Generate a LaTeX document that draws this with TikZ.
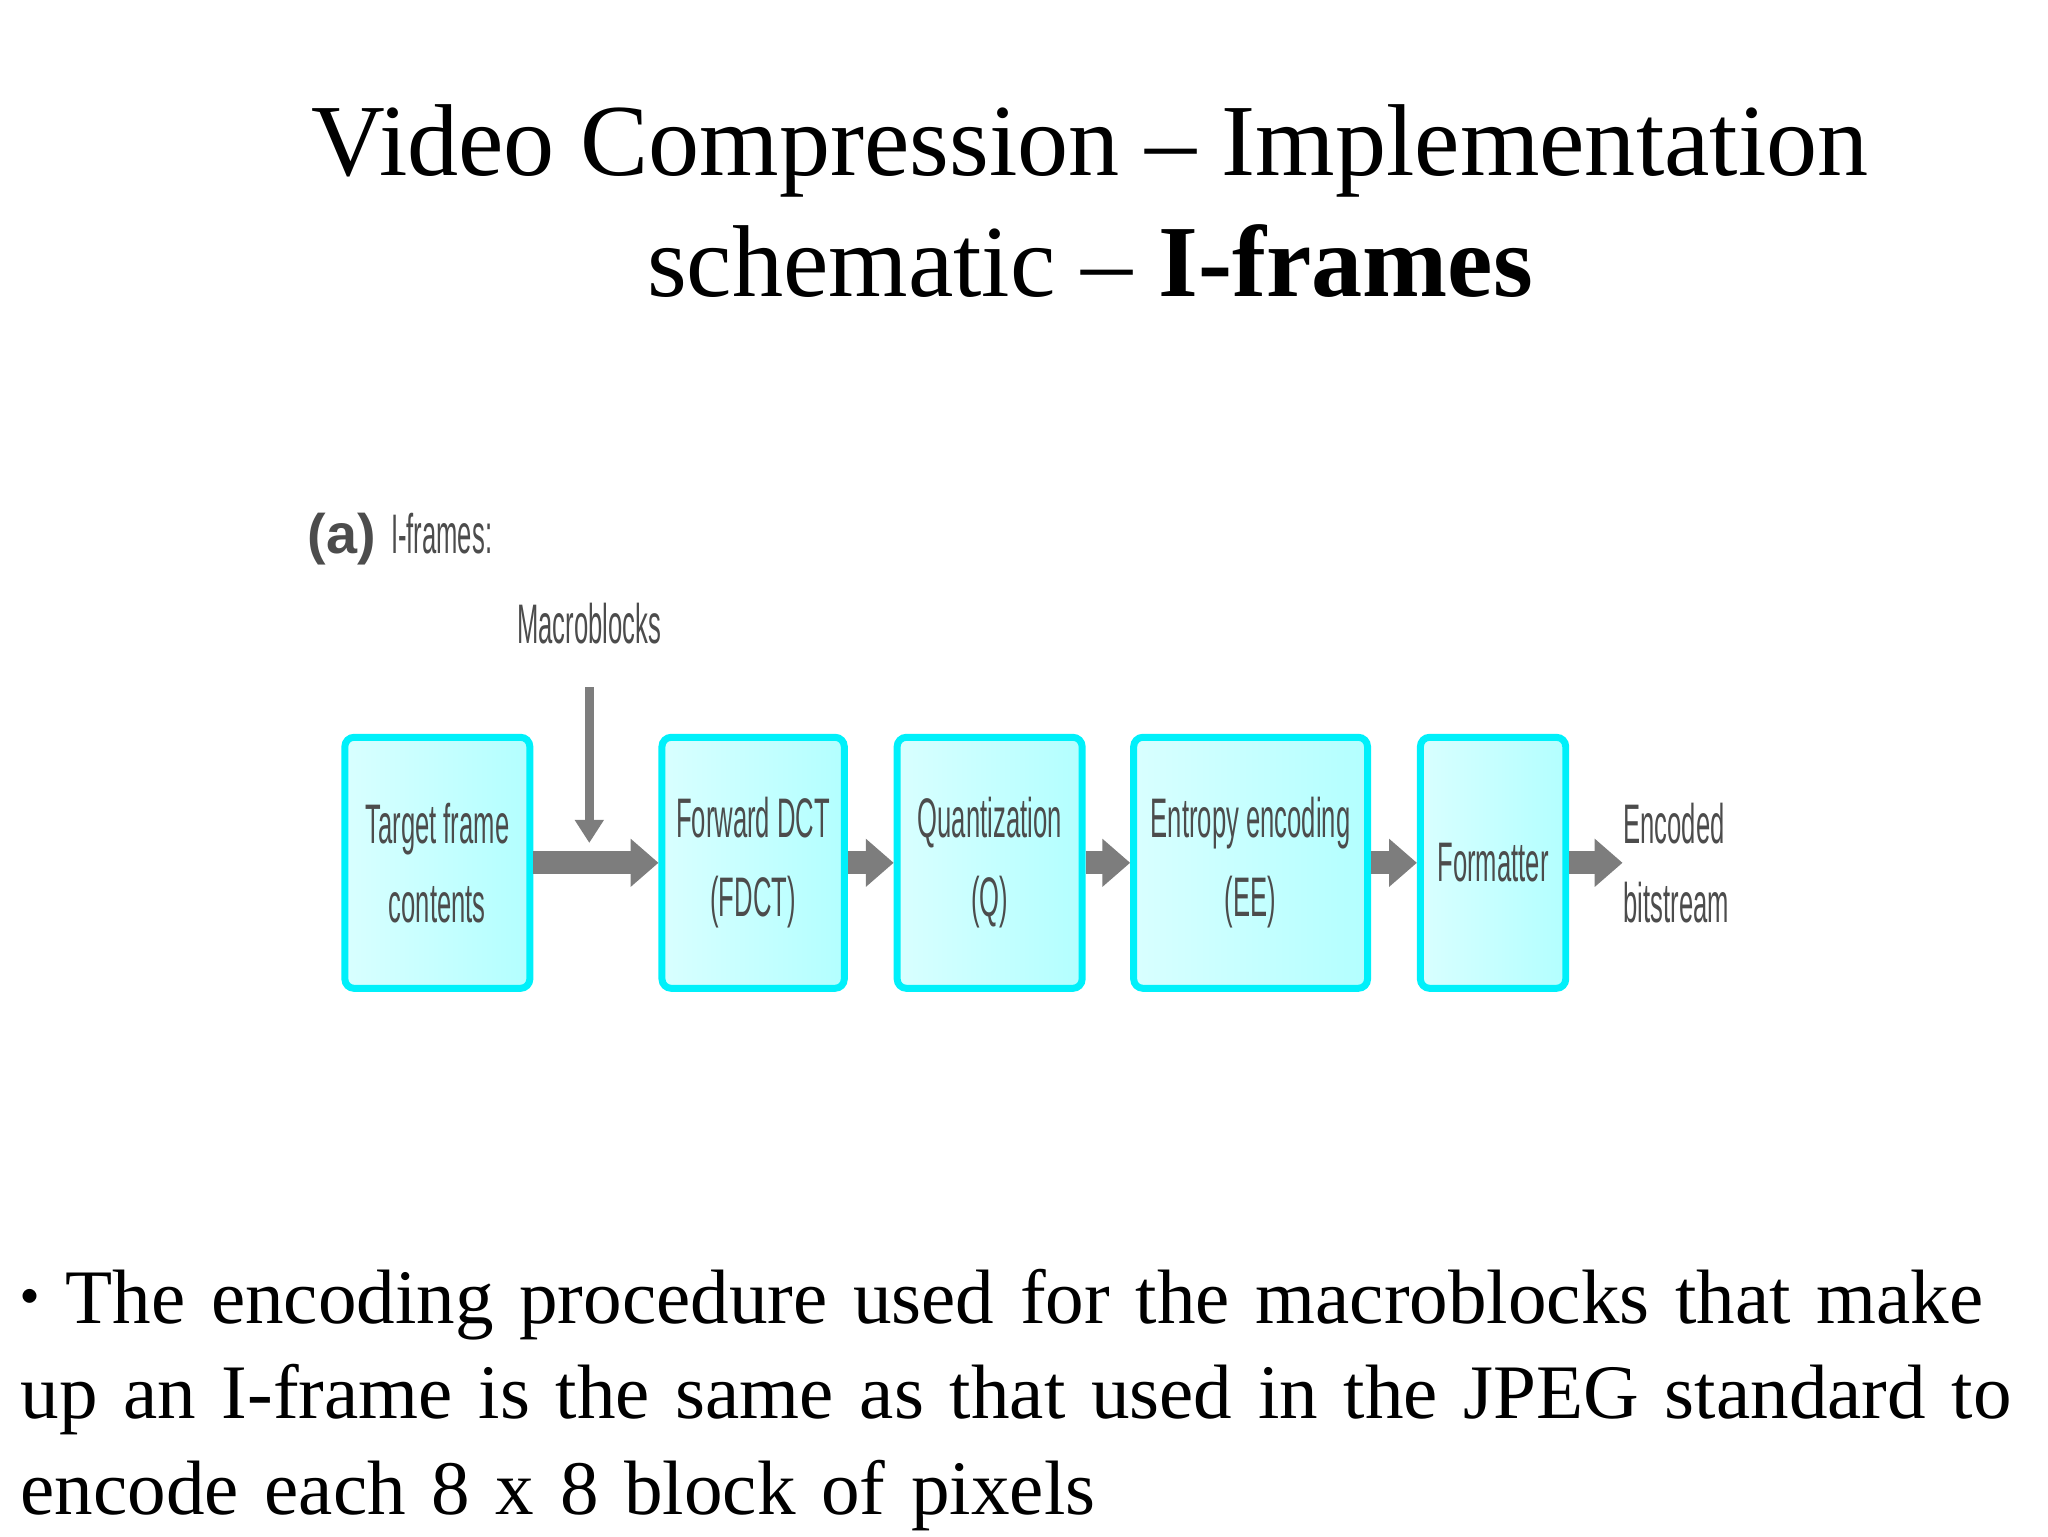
\documentclass[tikz,border=0pt]{standalone}
\usepackage{fontspec}
\setmainfont{Liberation Serif}
\newfontfamily\diag{Liberation Sans}
\usetikzlibrary{arrows.meta}
\definecolor{boxline}{RGB}{0,240,250}
\definecolor{arrgray}{RGB}{125,125,125}
\newcommand{\nt}[1]{\scalebox{0.46}[1]{#1}}
\tikzset{
 blk/.style={draw=boxline, line width=1.5pt, rounded corners=2pt, left color=white!85!cyan, right color=cyan!30, minimum height=1.9cm, inner sep=0pt, font=\diag\fontsize{12}{17}\selectfont, text=black!70, align=center},
 flow/.style={draw=arrgray, line width=5pt, -{Triangle[length=6pt,width=10pt]}},
 dlabel/.style={font=\diag\fontsize{12}{17}\selectfont, text=black!70, align=left, inner sep=0pt}
}
\begin{document}
\begin{tikzpicture}[x=1cm,y=-1cm]
\useasboundingbox (0,0) rectangle (15.5,11.63);
\node[font=\fontsize{22}{26}\selectfont, align=center] (title) at (8.25,1.52) {Video Compression -- Implementation\\schematic -- \textbf{I-frames}};
\node[dlabel, anchor=west] (lab) at (2.32,4.08) {\textbf{(a)} \nt{I-frames:}};
\node[dlabel] (mb) at (4.46,4.72) {\nt{Macroblocks}};
\node[blk, minimum width=1.40cm] (b1) at (3.31,6.53) {\nt{Target frame}\\\nt{contents}};
\node[blk, minimum width=1.38cm] (b2) at (5.70,6.53) {\nt{Forward DCT}\\\nt{(FDCT)}};
\node[blk, minimum width=1.40cm] (b3) at (7.49,6.53) {\nt{Quantization}\\\nt{(Q)}};
\node[blk, minimum width=1.77cm] (b4) at (9.465,6.53) {\nt{Entropy encoding}\\\nt{(EE)}};
\node[blk, minimum width=1.10cm] (b5) at (11.30,6.53) {\nt{Formatter}};
\node[dlabel, anchor=west] (out) at (12.28,6.53) {\nt{Encoded}\\\nt{bitstream}};
\coordinate (mt) at (4.46,5.2);
\coordinate (mj) at (4.46,6.38);
\draw[arrgray, line width=2pt, -{Triangle[length=5pt,width=6pt]}] (mt) -- (mj);
\draw[flow] (b1.east) -- (b2.west);
\draw[flow] (b2.east) -- (b3.west);
\draw[flow] (b3.east) -- (b4.west);
\draw[flow] (b4.east) -- (b5.west);
\draw[flow] (b5.east) -- (out.west);
\node[anchor=north west, text width=15.3cm, align=left, font=\fontsize{16.6}{20.5}\selectfont, inner sep=0pt] (txt) at (0.15,9.6) {\raisebox{0.25em}{\scriptsize$\bullet$} The encoding procedure used for the macroblocks that make up an I-frame is the same as that used in the JPEG standard to encode each 8 x 8 block of pixels};
\end{tikzpicture}
\end{document}
